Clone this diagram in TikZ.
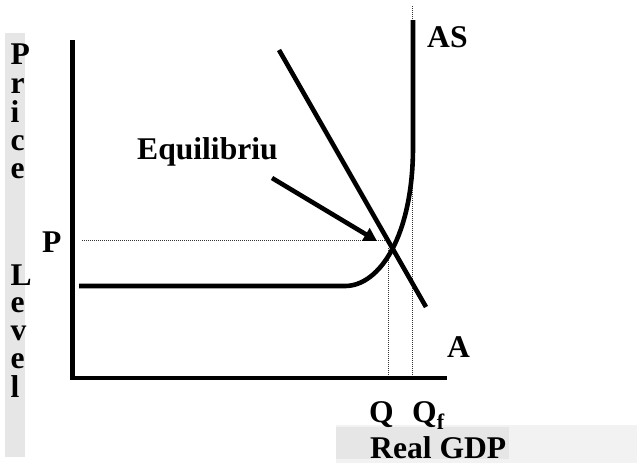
\documentclass[tikz,border=0pt]{standalone}
\usepackage{fontspec}
\setmainfont{Liberation Serif}
\usetikzlibrary{arrows.meta}
\definecolor{colgrey}{HTML}{E6E6E6}
\definecolor{boxlight}{HTML}{F2F2F2}
\begin{document}
\begin{tikzpicture}[x=1pt,y=-1pt,
  lbl/.style={inner sep=0pt,anchor=base west,font=\fontsize{31.6}{32}\selectfont\bfseries},
  collbl/.style={lbl,text height=21pt,text depth=0pt},
  thick line/.style={line width=4.6pt},
  guide/.style={line width=0.9pt,dash pattern=on 1pt off 1pt,black!80}]
\useasboundingbox (0,0) rectangle (637,466);
% grey backgrounds
\fill[colgrey] (5,33) rectangle (25,457);
\fill[boxlight] (336,425) rectangle (637,463);
\fill[colgrey] (336,427) rectangle (509,459);
% coordinates
\coordinate (O) at (72.7,378);
\coordinate (ytop) at (72.7,40);
\coordinate (xend) at (447,378);
\coordinate (as1) at (79,286);
\coordinate (as2) at (345,286);
\coordinate (as3) at (413,147);
\coordinate (as4) at (413,20);
\coordinate (ad1) at (279,50);
\coordinate (ad2) at (426,307);
\coordinate (eqs) at (272,178);
\coordinate (eqt) at (377,241);
\coordinate (pL) at (82,240);
\coordinate (pR) at (388,240);
\coordinate (qT) at (388,248);
\coordinate (qB) at (388,378);
\coordinate (qfT) at (412.3,6);
\coordinate (qfB) at (412.3,378);
% guides
\draw[guide] (pL) -- (pR);
\draw[guide] (qT) -- (qB);
\draw[guide] (qfT) -- (qfB);
% axes
\draw[thick line] (ytop) -- (O) -- (xend);
% AS curve
\draw[thick line] (as1) -- (as2) .. controls (380,286) and (413,235) .. (as3) -- (as4);
% AD line
\draw[thick line] (ad1) -- (ad2);
% arrow
\draw[thick line,-{Triangle[length=13pt,width=14pt]}] (eqs) -- (eqt);
% labels
\node[lbl] (tAS) at (427,47) {AS};
\node[lbl] (tEq) at (137,159) {Equilibriu};
\node[lbl] (tP) at (42,252) {P};
\node[lbl] (tA) at (447,357) {A};
\node[lbl] (tQ) at (369,422) {Q};
\node[lbl] (tQf) at (412,422) {Q\textsubscript{f}};
\node[lbl] (tGDP) at (370,458) {Real GDP};
% vertical axis title
\node[collbl] (v1) at (10.5,64) {P};
\node[collbl] (v2) at (10.5,93) {r};
\node[collbl] (v3) at (10.5,122) {i};
\node[collbl] (v4) at (10.5,150) {c};
\node[collbl] (v5) at (10.5,178) {e};
\node[collbl] (v6) at (10.5,285) {L};
\node[collbl] (v7) at (10.5,312) {e};
\node[collbl] (v8) at (10.5,340) {v};
\node[collbl] (v9) at (10.5,368) {e};
\node[collbl] (v10) at (10.5,397) {l};
\end{tikzpicture}
\end{document}
